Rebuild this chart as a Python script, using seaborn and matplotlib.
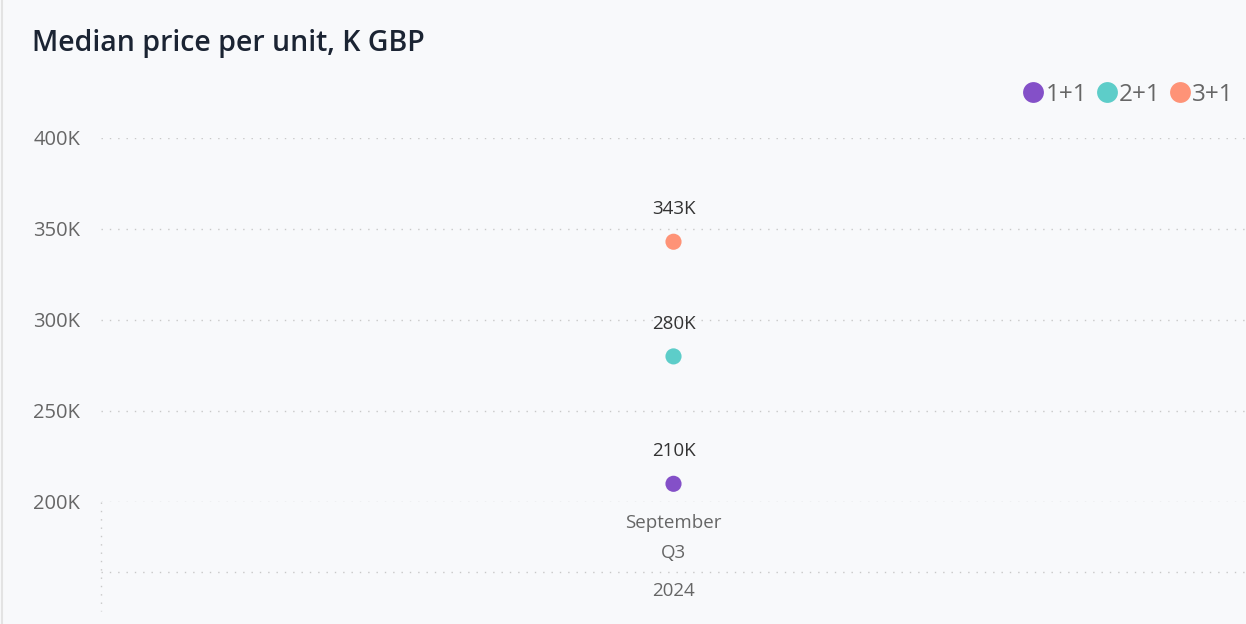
import pandas as pd
import seaborn as sns
import matplotlib.pyplot as plt
from matplotlib.lines import Line2D

# data
series = ['1+1', '2+1', '3+1']
values = [210000, 280000, 343000]
labels = ['210K', '280K', '343K']
month = 'September'
quarter = 'Q3'
year = '2024'
y_ticks = [200000, 250000, 300000, 350000, 400000]
y_tick_labels = ['200K', '250K', '300K', '350K', '400K']
colors = ['#8450C8', '#5DCDC9', '#FE9377']

df = pd.DataFrame({'month': [month] * 3, 'series': series, 'value': values})

sns.set_style('white')
plt.rcParams['font.family'] = ['Open Sans', 'DejaVu Sans']

bg = '#F8F9FB'
fig = plt.figure(figsize=(12.46, 6.24), dpi=100, facecolor=bg)
ax = fig.add_axes([101 / 1246, 1 - 502 / 624, 1 - 101 / 1246, (502 - 138) / 624])
ax.set_facecolor(bg)

sns.scatterplot(data=df, x='month', y='value', hue='series', palette=colors,
                s=135, linewidth=0, ax=ax, legend=False, zorder=3, clip_on=False)

for v, lab in zip(values, labels):
    ax.annotate(lab, (0, v), xytext=(0, 17), textcoords='offset points',
                ha='center', va='bottom', fontsize=13.5, color='#333333')

ax.set_xlim(-0.5, 0.5)
ax.set_ylim(200000, 400000)
ax.set_yticks(y_ticks)
ax.set_yticklabels(y_tick_labels, fontsize=14.5, color='#666666')
ax.tick_params(axis='y', length=0, pad=15)
ax.set_xticks([])
ax.set_xlabel('')
ax.set_ylabel('')
for sp in ax.spines.values():
    sp.set_visible(False)
ax.grid(axis='y', color='#C8C8C8', linestyle=(0, (1, 5)), linewidth=1)

# hierarchical x-axis labels below the plot
tr = ax.get_xaxis_transform()
ax.text(0, -0.058, month, transform=tr, ha='center', va='center', fontsize=13.5, color='#666666')
ax.text(0, -0.141, quarter, transform=tr, ha='center', va='center', fontsize=13.5, color='#666666')
ax.text(0, -0.245, year, transform=tr, ha='center', va='center', fontsize=13.5, color='#666666')
ax.plot([-0.5, 0.5], [-0.192, -0.192], transform=tr, color='#C8C8C8',
        linestyle=(0, (1, 5)), linewidth=1, clip_on=False)
ax.plot([-0.5, -0.5], [0, -0.3], transform=tr, color='#C8C8C8',
        linestyle=(0, (1, 5)), linewidth=1, clip_on=False)

# left border of the card
fig.add_artist(Line2D([0.0015, 0.0015], [0, 1], color='#E3E3E3', linewidth=1.5))

fig.text(32 / 1246, 1 - 44 / 624, 'Median price per unit, K GBP', fontsize=20.5,
         fontweight='semibold', color='#1B2433', va='center', ha='left')

handles = [Line2D([], [], marker='o', linestyle='', markersize=15,
                  markerfacecolor=c, markeredgewidth=0) for c in colors]
leg = fig.legend(handles, series, loc='center right', bbox_to_anchor=(1.0, 1 - 95 / 624),
                 ncol=3, frameon=False, fontsize=17.5, handletextpad=0.0,
                 columnspacing=0.3, handlelength=1.0, borderaxespad=0.1)
for t in leg.get_texts():
    t.set_color('#666666')

fig.savefig('out.png', dpi=100, facecolor=bg)
